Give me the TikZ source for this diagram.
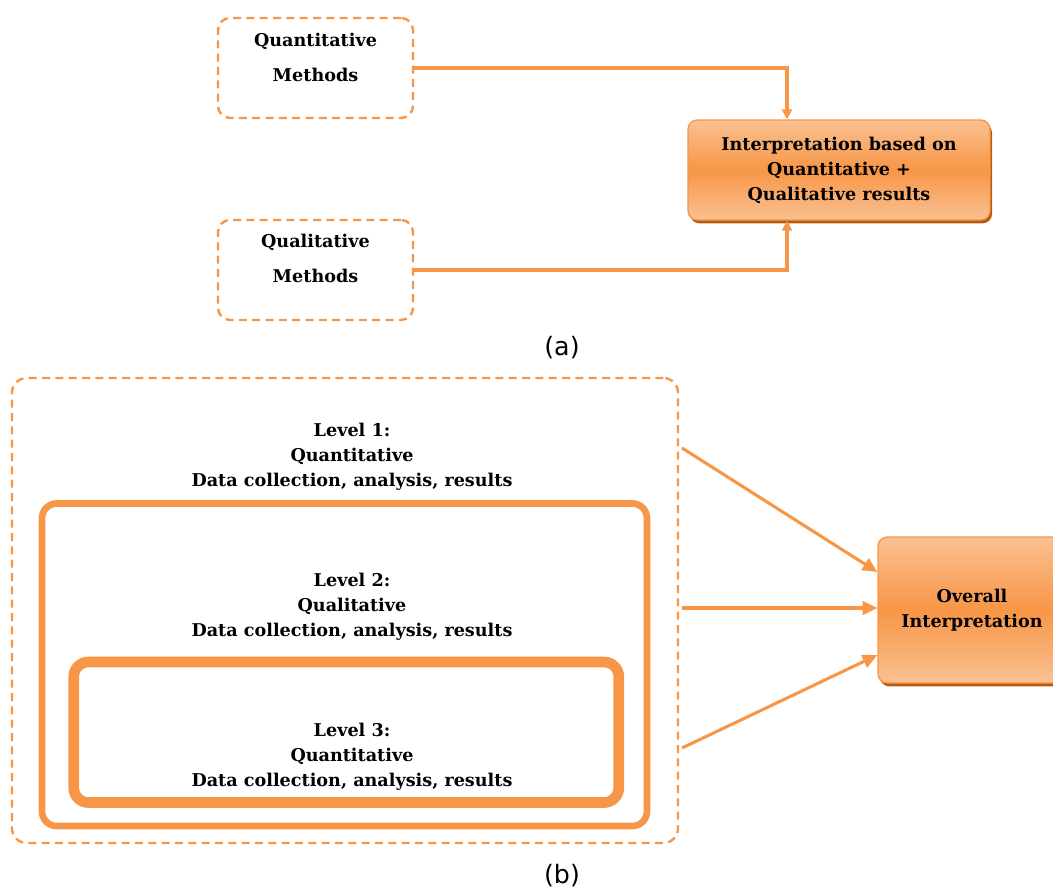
\documentclass[tikz,border=0pt]{standalone}
\usepackage{fontspec}
\newfontfamily\captionfont{DejaVu Sans}
\newfontfamily\serifbold{DejaVu Serif}
\usetikzlibrary{arrows.meta,shadows,calc}
\definecolor{midorange}{HTML}{F79646}
\definecolor{lightorange}{HTML}{FAC192}
\definecolor{darkorange}{HTML}{B65A12}
\definecolor{lineorange}{HTML}{F79646}
\newcommand{\boxfont}{\serifbold\fontsize{13.2}{18.75}\selectfont\bfseries}
\newcommand{\methodfont}{\serifbold\fontsize{13.2}{26.5}\selectfont\bfseries}
\tikzset{
  methodbox/.style={draw=lineorange, line width=1.8pt, dash pattern=on 6pt off 4pt,
    rounded corners=9pt, minimum width=146.25pt, minimum height=75pt},
  levelbox/.style={draw=lineorange, rounded corners=11pt},
  resultbox/.style={draw=lineorange, line width=1pt, rounded corners=7pt,
    top color=lightorange, bottom color=lightorange, middle color=midorange,
    drop shadow={shadow xshift=1.5pt, shadow yshift=-2.5pt, fill=darkorange, opacity=1},
    align=center, font=\boxfont},
  boxtext/.style={align=center, font=\boxfont},
  methodtext/.style={align=center, font=\methodfont},
  captiontext/.style={font=\captionfont\fontsize{19}{22}\selectfont},
  flowarrow/.style={-{Triangle[length=7.5pt,width=7.5pt]}, lineorange, line width=2.3pt},
  bigarrow/.style={flowarrow, -{Triangle[length=11pt,width=10pt]}},
}

\begin{document}
\begin{tikzpicture}[x=0.75pt,y=-0.75pt]
  \useasboundingbox (0,0) rectangle (1053,890);
  % (a)
  \node[methodbox] (quant) at (315.5,68) {};
  \node[methodtext] (quanttext) at (315.5,57.5) {Quantitative\\Methods};
  \node[methodbox] (qual) at (315.5,270) {};
  \node[methodtext] (qualtext) at (315.5,258.5) {Qualitative\\Methods};
  \node[resultbox, minimum width=226.5pt, minimum height=75pt] (interp) at (839,170)
    {Interpretation based on\\Quantitative +\\Qualitative results};

  \draw[flowarrow] (quant.east) -| ($(interp.north)+(-52,0)$);
  \draw[flowarrow] (qual.east) -| ($(interp.south)+(-52,0)$);
  \node[captiontext] (capa) at (562,348) {(a)};

  % (b)
  \node[methodbox, minimum width=499.5pt, minimum height=348.75pt, rounded corners=11pt]
    (outerb) at (345,610.5) {};
  \node[boxtext] (lvlonetext) at (352,457) {Level 1:\\Quantitative\\Data collection, analysis, results};
  \node[levelbox, line width=5pt, minimum width=453.75pt, minimum height=241.9pt]
    (lvltwo) at (344.5,664.75) {};
  \node[boxtext] (lvltwotext) at (352,607) {Level 2:\\Qualitative\\Data collection, analysis, results};
  \node[levelbox, line width=8pt, minimum width=408.75pt, minimum height=105.4pt]
    (lvlthree) at (346.25,732.25) {};
  \node[boxtext] (lvlthreetext) at (352,757) {Level 3:\\Quantitative\\Data collection, analysis, results};
  \node[resultbox, minimum width=141pt, minimum height=109.5pt] (overall) at (972,610)
    {Overall\\Interpretation};

  \coordinate (fromone) at (682,448);
  \coordinate (fromtwo) at (682,608);
  \coordinate (fromthree) at (682,748);
  \draw[bigarrow] (fromone) -- ($(overall.west)+(0,-38)$);
  \draw[bigarrow] (fromtwo) -- (fromtwo -| overall.west);
  \draw[bigarrow] (fromthree) -- ($(overall.west)+(0,45)$);
  \node[captiontext] (capb) at (562,876) {(b)};
\end{tikzpicture}
\end{document}
